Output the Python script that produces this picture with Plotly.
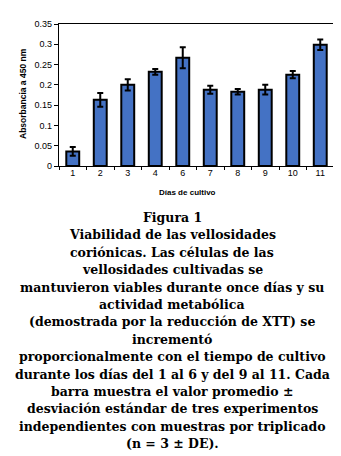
import plotly.graph_objects as go

days = ['1', '2', '3', '4', '6', '7', '8', '9', '10', '11']
absorbance = [0.036, 0.163, 0.200, 0.232, 0.267, 0.188, 0.183, 0.188, 0.225, 0.299]
sd = [0.011, 0.017, 0.014, 0.007, 0.026, 0.010, 0.007, 0.012, 0.009, 0.013]
y_ticks = [0, 0.05, 0.1, 0.15, 0.2, 0.25, 0.3, 0.35]
y_ticklabels = ['0', '0.05', '0.1', '0.15', '0.2', '0.25', '0.3', '0.35']

caption_lines = [
    "Figura 1",
    "Viabilidad de las vellosidades",
    "coriónicas. Las células de las",
    "vellosidades cultivadas se",
    "mantuvieron viables durante once días y su",
    "actividad metabólica",
    "(demostrada por la reducción de XTT) se",
    "incrementó",
    "proporcionalmente con el tiempo de cultivo",
    "durante los días del 1 al 6 y del 9 al 11. Cada",
    "barra muestra el valor promedio ±",
    "desviación estándar de tres experimentos",
    "independientes con muestras por triplicado",
    "(n = 3 ± DE).",
]

W, H = 341, 456
L, R, T, B = 51, 15, 16, 298
plot_top, plot_bot = T, H - B
pw, ph = W - L - R, plot_bot - plot_top


def px(x):
    return (x - L) / pw


def py(y):
    return (plot_bot - y) / ph


fig = go.Figure()
fig.add_trace(go.Bar(
    x=days, y=absorbance,
    marker=dict(color='#4472c4', line=dict(color='black', width=2)),
    error_y=dict(type='data', array=sd, visible=True, color='black', thickness=2, width=3),
    width=0.47,
))

annotations = []
y0 = 209.5
step = 17.4
for i, line in enumerate(caption_lines):
    annotations.append(dict(
        text=line, xref='paper', yref='paper',
        x=px(164), y=py(y0 + i * step),
        xanchor='center', yanchor='middle', showarrow=False,
        font=dict(family='DejaVu Serif', size=12.5, color='black', weight='bold'),
    ))

annotations.append(dict(
    text='<b>Días de cultivo</b>', xref='paper', yref='paper',
    x=px(179), y=py(184), xanchor='center', yanchor='middle', showarrow=False,
    font=dict(family='Liberation Sans', size=8, color='black'),
))
annotations.append(dict(
    text='<b>Absorbancia a 450 nm</b>', xref='paper', yref='paper',
    x=px(15), y=py(86), xanchor='center', yanchor='middle', showarrow=False,
    textangle=-90,
    font=dict(family='Liberation Sans', size=8.5, color='black'),
))

fig.update_layout(
    width=W, height=H,
    margin=dict(l=L, r=R, t=T, b=B),
    paper_bgcolor='white', plot_bgcolor='white',
    showlegend=False,
    font=dict(family='Liberation Sans', color='black', size=9),
    annotations=annotations,
    xaxis=dict(
        type='category', showline=True, linecolor='black', linewidth=1.3, mirror=True,
        ticks='outside', tickson='boundaries', ticklen=3, tickcolor='black',
        showgrid=False, tickfont=dict(size=9), ticklabelstandoff=-2,
    ),
    yaxis=dict(
        range=[0, 0.35], tickvals=y_ticks, ticktext=y_ticklabels,
        showline=True, linecolor='black', linewidth=1.3, mirror=True,
        ticks='outside', ticklen=4, tickcolor='black', showgrid=False, zeroline=False,
        tickfont=dict(size=9),
    ),
)

fig.write_html('out.html')
